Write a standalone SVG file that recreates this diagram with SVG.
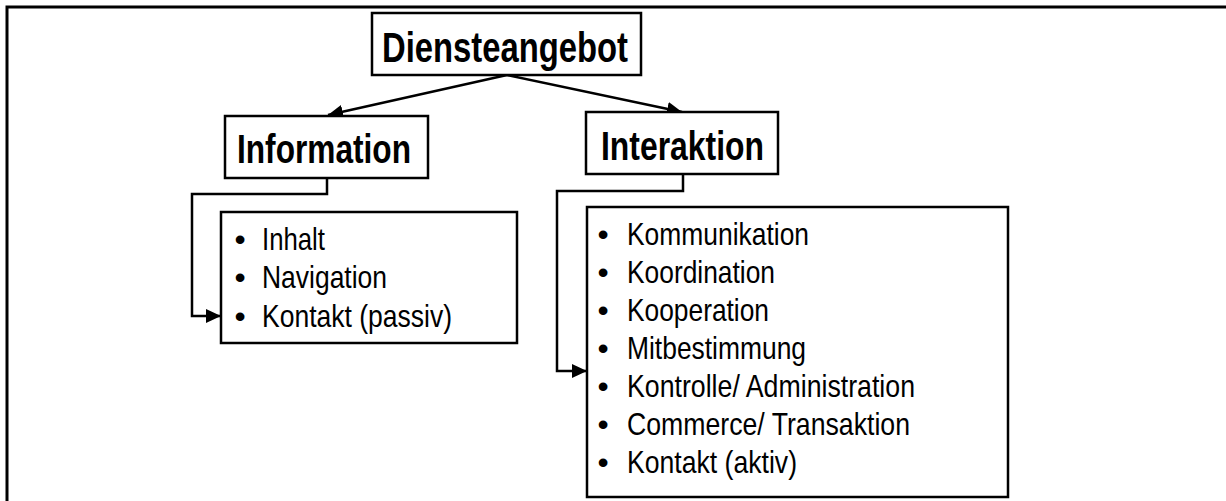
<svg xmlns="http://www.w3.org/2000/svg" width="1226" height="501" viewBox="0 0 1226 501">
  <defs>
    <marker id="arrow" markerUnits="userSpaceOnUse" markerWidth="16" markerHeight="14" refX="15" refY="7" orient="auto">
      <path d="M0,0 L15,7 L0,14 z" fill="#000"/>
    </marker>
    <style>
      .box { fill: #fff; stroke: #000; stroke-width: 2.5; }
      .frame { fill: none; stroke: #000; stroke-width: 3; }
      .link { fill: none; stroke: #000; stroke-width: 2.5; marker-end: url(#arrow); }
      .title { font-family: "Liberation Sans Narrow", "Liberation Sans", Arial, sans-serif; font-weight: bold; fill: #000; text-anchor: middle; }
      .item { font-family: "Liberation Sans Narrow", "Liberation Sans", Arial, sans-serif; font-size: 32px; fill: #000; }
      .bullet { font-family: "Liberation Sans", Arial, sans-serif; font-size: 32px; fill: #000; text-anchor: middle; }
    </style>
  </defs>

  <rect width="1226" height="501" fill="#fff"/>
  <!-- outer frame (top and left edges) -->
  <path class="frame" d="M7,501 V7 H1226"/>

  <g id="connectors">
    <path class="link" d="M507,75 L328,115"/>
    <path class="link" d="M507,75 L682,112"/>
    <path class="link" d="M327,178 V194 H192 V316 H221"/>
    <path class="link" d="M683,174 V191 H557 V371 H587"/>
  </g>

  <g id="diensteangebot">
    <rect class="box" x="372" y="13" width="269" height="62"/>
    <text class="title" x="505" y="62" font-size="43" textLength="246" lengthAdjust="spacingAndGlyphs">Diensteangebot</text>
  </g>

  <g id="information">
    <rect class="box" x="225" y="116" width="203" height="62"/>
    <text class="title" x="324" y="163" font-size="40" textLength="174" lengthAdjust="spacingAndGlyphs">Information</text>
  </g>

  <g id="interaktion">
    <rect class="box" x="586" y="112" width="192" height="62"/>
    <text class="title" x="682.5" y="160" font-size="40" textLength="163" lengthAdjust="spacingAndGlyphs">Interaktion</text>
  </g>

  <g id="information-list">
    <rect class="box" x="221" y="212" width="296" height="131"/>
    <text class="bullet" x="240" y="250">•</text>
    <text class="item" x="262" y="250" textLength="63" lengthAdjust="spacingAndGlyphs">Inhalt</text>
    <text class="bullet" x="240" y="288">•</text>
    <text class="item" x="262" y="288" textLength="125" lengthAdjust="spacingAndGlyphs">Navigation</text>
    <text class="bullet" x="240" y="327">•</text>
    <text class="item" x="262" y="327" textLength="190" lengthAdjust="spacingAndGlyphs">Kontakt (passiv)</text>
  </g>

  <g id="interaktion-list">
    <rect class="box" x="587" y="207" width="421" height="290"/>
    <text class="bullet" x="603" y="245">•</text>
    <text class="item" x="627" y="245" textLength="182" lengthAdjust="spacingAndGlyphs">Kommunikation</text>
    <text class="bullet" x="603" y="283">•</text>
    <text class="item" x="627" y="283" textLength="148" lengthAdjust="spacingAndGlyphs">Koordination</text>
    <text class="bullet" x="603" y="321">•</text>
    <text class="item" x="627" y="321" textLength="142" lengthAdjust="spacingAndGlyphs">Kooperation</text>
    <text class="bullet" x="603" y="359">•</text>
    <text class="item" x="627" y="359" textLength="179" lengthAdjust="spacingAndGlyphs">Mitbestimmung</text>
    <text class="bullet" x="603" y="397">•</text>
    <text class="item" x="627" y="397" textLength="288" lengthAdjust="spacingAndGlyphs">Kontrolle/ Administration</text>
    <text class="bullet" x="603" y="435">•</text>
    <text class="item" x="627" y="435" textLength="283" lengthAdjust="spacingAndGlyphs">Commerce/ Transaktion</text>
    <text class="bullet" x="603" y="473">•</text>
    <text class="item" x="627" y="473" textLength="170" lengthAdjust="spacingAndGlyphs">Kontakt (aktiv)</text>
  </g>
</svg>
